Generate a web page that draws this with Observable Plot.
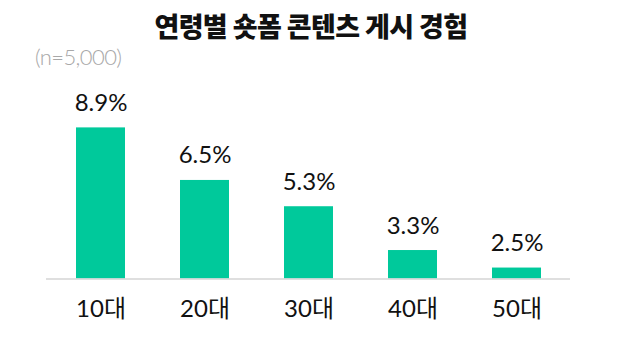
<!DOCTYPE html>
<html>
<head>
<meta charset="utf-8">
<script src="https://cdn.jsdelivr.net/npm/d3@7"></script>
<script src="https://cdn.jsdelivr.net/npm/@observablehq/plot@0.6"></script>
<style>
  html, body { margin: 0; padding: 0; background: #fff; }
  #wrap { position: relative; width: 622px; height: 347px; overflow: hidden; }
  #title { height: 46px; box-sizing: border-box; padding-top: 12px; text-align: center;
    font-family: "Noto Sans CJK KR", sans-serif; font-weight: 900; font-size: 27px; line-height: 27px;
    color: #111; letter-spacing: -0.6px; }
  #sub { position: absolute; left: 35px; top: 46px; font-family: Lato, "Noto Sans", sans-serif;
    font-weight: 300; font-size: 22px; line-height: 22px; color: #a8a8a8; letter-spacing: -0.6px; }
</style>
</head>
<body>
<div id="wrap">
  <div id="title">연령별 숏폼 콘텐츠 게시 경험</div>
  <div id="sub">(n=5,000)</div>
  <div id="chart"></div>
</div>
<script>
const titleText = "연령별 숏폼 콘텐츠 게시 경험";
const sampleNote = "(n=5,000)";
const ages = ["10대", "20대", "30대", "40대", "50대"];
const values = [8.9, 6.5, 5.3, 3.3, 2.5];
const yDomain = [2, 10];

document.getElementById("title").textContent = titleText;
document.getElementById("sub").textContent = sampleNote;

const data = ages.map((a, i) => ({age: a, value: values[i]}));
const font = "Lato, 'Noto Sans CJK KR', sans-serif";

const chart = Plot.plot({
  width: 622,
  height: 301,
  marginLeft: 46,
  marginRight: 52,
  marginTop: 57.3,
  marginBottom: 68.5,
  style: {fontFamily: font, color: "#111", background: "#fff"},
  x: {domain: ages, paddingInner: 0.53, paddingOuter: 0.266, axis: null},
  y: {domain: yDomain, axis: null},
  marks: [
    Plot.barY(data, {x: "age", y1: () => yDomain[0], y2: "value", fill: "#00c99b"}),
    Plot.ruleY([yDomain[0]], {stroke: "#d4d4d4", strokeWidth: 1.5}),
    Plot.text(data, {x: "age", y: "value", text: d => d.value.toFixed(1) + "%",
      lineAnchor: "bottom", dy: -17, fontSize: 24, fill: "#111"}),
    Plot.axisX({tickSize: 0, tickPadding: 21, fontSize: 24, fill: "#111", label: null})
  ]
});
document.getElementById("chart").appendChild(chart);
</script>
</body>
</html>
